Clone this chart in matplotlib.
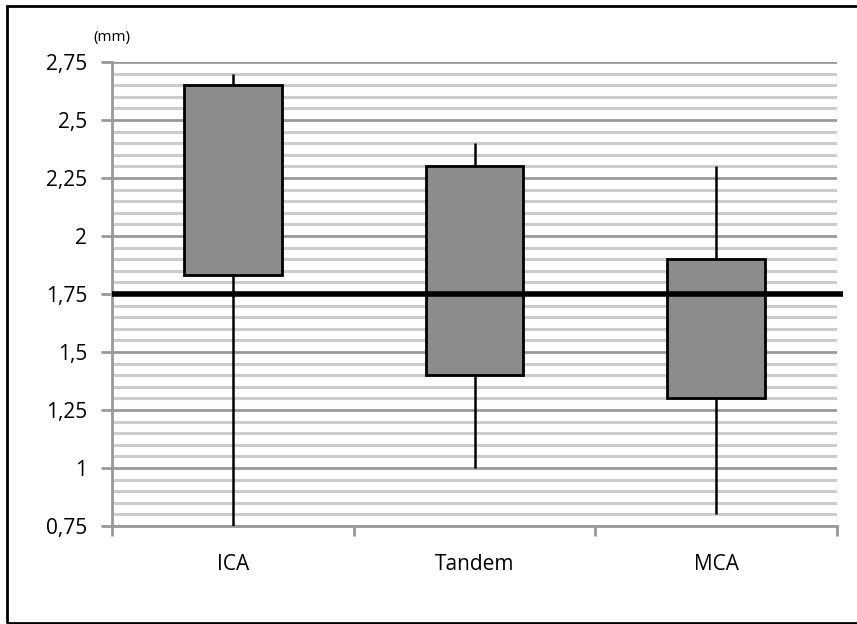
import matplotlib.pyplot as plt
import numpy as np
from matplotlib.patches import Rectangle
from matplotlib.ticker import MultipleLocator, FuncFormatter

# box chart data (mm)
categories = ['ICA', 'Tandem', 'MCA']
box_low = [1.83, 1.40, 1.30]
box_high = [2.65, 2.30, 1.90]
whisker_low = [0.75, 1.00, 0.80]
whisker_high = [2.70, 2.40, 2.30]
reference_level = 1.75

plt.rcParams['font.family'] = ['Open Sans', 'DejaVu Sans']

fig = plt.figure(figsize=(8.57, 6.24), dpi=100)
ax = fig.add_axes([112/857, 1 - 526/624, (837-112)/857, (526-62)/624])

x = np.arange(len(categories))
w = 0.405
for i in range(len(categories)):
    ax.plot([x[i], x[i]], [whisker_low[i], whisker_high[i]], color='black', lw=1.8, zorder=3, solid_capstyle='butt')
    ax.add_patch(Rectangle((x[i] - w/2, box_low[i]), w, box_high[i] - box_low[i],
                           facecolor='#8c8c8c', edgecolor='black', lw=2, zorder=4))

ax.set_xlim(-0.5, 2.5)
ax.set_ylim(0.75, 2.75)
ax.yaxis.set_major_locator(MultipleLocator(0.25))
ax.yaxis.set_minor_locator(MultipleLocator(0.05))
ax.yaxis.set_major_formatter(FuncFormatter(lambda v, p: ('%g' % v).replace('.', ',')))
ax.grid(which='minor', axis='y', color='#cccccc', lw=2.2)
ax.grid(which='major', axis='y', color='#999999', lw=2)
ax.set_axisbelow(True)

ax.set_xticks(x)
ax.set_xticklabels(categories)
ax.set_xticks([-0.5, 0.5, 1.5, 2.5], minor=True)
ax.tick_params(axis='x', which='major', length=0, pad=20, labelsize=15)
ax.tick_params(axis='x', which='minor', length=7, width=2, color='#999999')
ax.tick_params(axis='y', which='major', length=8, width=2, color='#999999', labelsize=15, pad=10)
ax.tick_params(axis='y', which='minor', length=0)

for s in ['top', 'right']:
    ax.spines[s].set_visible(False)
for s in ['left', 'bottom']:
    ax.spines[s].set_color('#999999')
    ax.spines[s].set_linewidth(2)

# thick reference line, runs past the plot area
ax.plot([-0.5, 2.5 + 0.025], [reference_level, reference_level], color='black', lw=4,
        zorder=5, clip_on=False, solid_capstyle='butt')

fig.text(93/857, 1 - 38/624, '(mm)', fontsize=11, va='center', ha='left')

fig.add_artist(Rectangle((7/857, 1/624), 1.2, 617/624, transform=fig.transFigure,
                         facecolor='none', edgecolor='black', lw=2))

fig.savefig('out.png', dpi=100)
